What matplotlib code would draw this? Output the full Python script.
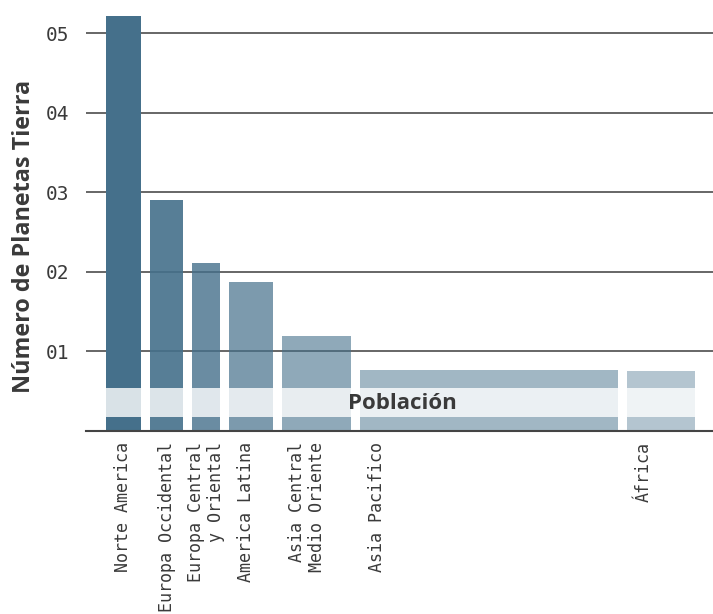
import matplotlib
matplotlib.use("Agg")
import matplotlib.pyplot as plt
from matplotlib.patches import Rectangle

# Data
regiones = ["Norte America", "Europa Occidental", "Europa Central\ny Oriental",
            "America Latina", "Asia Central\nMedio Oriente", "Asia Pacifico", "África"]
planetas = [5.22, 2.91, 2.11, 1.87, 1.19, 0.77, 0.755]
poblacion = [35, 33, 28, 44, 69, 258, 68]   # relative population (bar widths)
alphas = [1.0, 0.9, 0.8, 0.7, 0.6, 0.5, 0.4]
yticks = [1, 2, 3, 4, 5]

base = "#45708b"
gap = 9
start = 20

fig = plt.figure(figsize=(7.13, 6.14), dpi=100)
ax = fig.add_axes([86/713, 1 - 431/614, 1 - 86/713, 431/614])

# gridlines
for t in yticks:
    ax.axhline(t, color="#666666", lw=1.4, zorder=1)

lefts = []
x = start
for w in poblacion:
    lefts.append(x)
    x += w + gap

ax.bar(lefts, planetas, width=poblacion, align="edge", color=base, zorder=2,
       linewidth=0)
for p, a in zip(ax.patches, alphas):
    p.set_alpha(a)

# population band
band_lo, band_hi = 0.176, 0.54
ax.add_patch(Rectangle((lefts[0], band_lo), lefts[-1] + poblacion[-1] - lefts[0],
                       band_hi - band_lo, facecolor="white", alpha=0.8,
                       linewidth=0, zorder=3))
ax.text(316, 0.34, "Población", ha="center", va="center", fontsize=16,
        fontweight="bold", family="Open Sans", color="#3a3a3a", zorder=4)

ax.set_xlim(0, 627)
ax.set_ylim(0, 5.42)

ax.set_yticks(yticks)
ax.set_yticklabels(["%02d" % t for t in yticks], family="DejaVu Sans Mono",
                   fontsize=14, color="#3a3a3a")
ticks = [l + min(w / 2, 17 + 8 * r.count("\n"))
         for l, w, r in zip(lefts, poblacion, regiones)]
ax.set_xticks(ticks)
ax.set_xticklabels(regiones, rotation=90, family="DejaVu Sans Mono", fontsize=12,
                   color="#3a3a3a", va="top", ha="center", multialignment="right")
ax.tick_params(axis="both", length=0)
ax.tick_params(axis="y", pad=12)
ax.tick_params(axis="x", pad=8)

for s in ["top", "right", "left"]:
    ax.spines[s].set_visible(False)
ax.spines["bottom"].set_color("#444444")
ax.spines["bottom"].set_linewidth(1.5)
ax.spines["bottom"].set_zorder(5)

fig.text(24/713, 1 - 236/614, "Número de Planetas Tierra", rotation=90,
         ha="center", va="center", fontsize=16.8, fontweight="bold", family="Open Sans",
         color="#3a3a3a")

fig.savefig("out.png", dpi=100)
